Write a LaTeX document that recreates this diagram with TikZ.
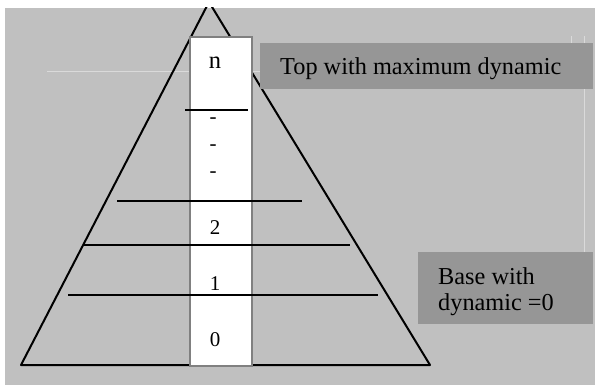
\documentclass[tikz,border=0pt]{standalone}
\usepackage{fontspec}
\setmainfont{Liberation Serif}
\usetikzlibrary{positioning}

\definecolor{bggray}{HTML}{C0C0C0}
\definecolor{boxgray}{HTML}{969696}
\definecolor{colgray}{HTML}{808080}
\definecolor{faintgray}{HTML}{DADADA}

\begin{document}
\begin{tikzpicture}[x=1pt, y=-1pt,
    edge/.style={
        line width=2pt,
        black
    },
    faint/.style={
        line width=1pt,
        faintgray
    },
    column/.style={
        draw=colgray,
        fill=white,
        line width=1.8pt,
        inner sep=0pt,
        anchor=north west
    },
    labelbox/.style={
        fill=boxgray,
        inner sep=0pt,
        anchor=north west
    },
    levelnum/.style={
        font=\fontsize{21}{24}\selectfont,
        anchor=base,
        inner sep=0pt
    },
    boxtxt/.style={
        font=\fontsize{24.3}{26}\selectfont,
        anchor=base west,
        inner sep=0pt,
        align=left
    }
]

\useasboundingbox (0,0) rectangle (595,385);
\fill[white] (0,0) rectangle (595,385);
\fill[bggray] (5,8) rectangle (595,385);

% faint guide lines
\draw[faint] (47,72) -- (260,72);
\draw[faint] (571,36) -- (571,43);
\draw[faint] (584,36) -- (584,252);

% pyramid outline
\begin{scope}
    \clip (5,8) rectangle (595,385);
    \coordinate (apex) at (209,2);
    \coordinate (baseL) at (21,365);
    \coordinate (baseR) at (430,365);
    \draw[edge, line join=round] (baseL) -- (apex) -- (baseR) -- cycle;
\end{scope}

% central column
\node[column, minimum width=62pt, minimum height=329pt] (col) at (189,36) {};

% level lines
\draw[edge] (185,110) -- (248,110);
\draw[edge] (117,201) -- (302,201);
\draw[edge] (84,245) -- (350,245);
\draw[edge] (68,295) -- (378,295);

% level labels
\node[levelnum, font=\fontsize{24.5}{26}\selectfont] (lvln) at (215,69) {n};
\node[levelnum] (dash1) at (213,124) {-};
\node[levelnum] (dash2) at (213,151) {-};
\node[levelnum] (dash3) at (213,178) {-};
\node[levelnum] (lvl2) at (215,235) {2};
\node[levelnum] (lvl1) at (215,290) {1};
\node[levelnum] (lvl0) at (215,346) {0};

% side labels
\node[labelbox, minimum width=333pt, minimum height=46pt] (topbox) at (260,43) {};
\node[boxtxt] (toptxt) at (280,75) {Top with maximum dynamic};

\node[labelbox, minimum width=175pt, minimum height=72pt] (basebox) at (418,252) {};
\node[boxtxt] (basetxt) at (438,310) {Base with\\dynamic =0};

\end{tikzpicture}
\end{document}
